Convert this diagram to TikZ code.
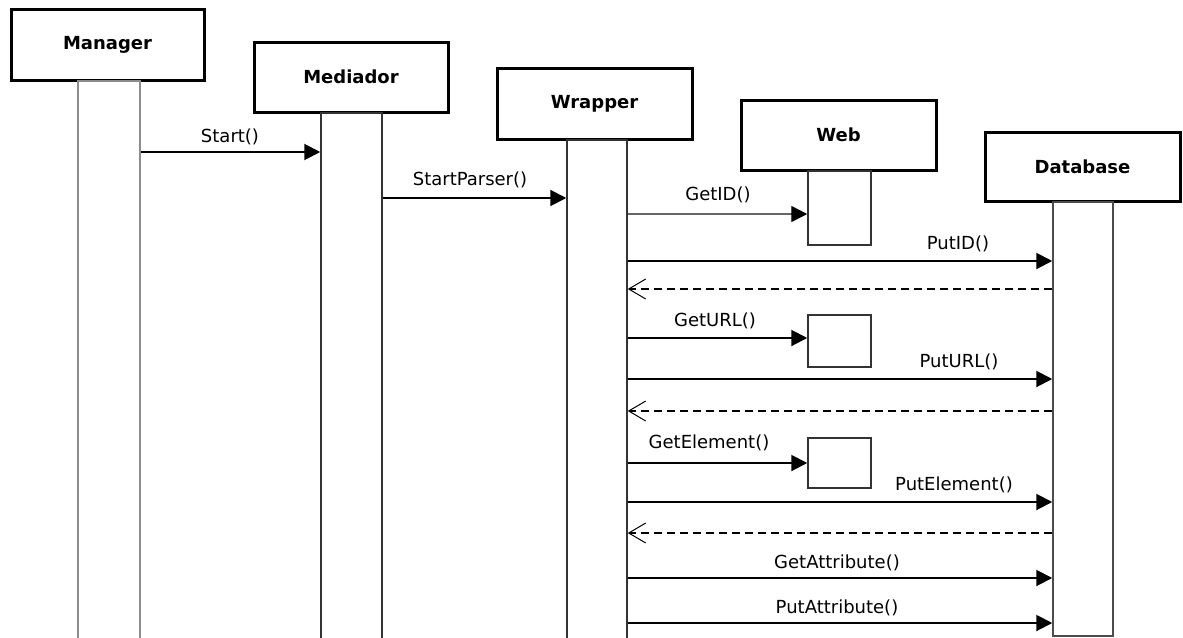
\documentclass[tikz,border=0pt]{standalone}
\usepackage{fontspec}
\setmainfont{DejaVu Sans}
\usetikzlibrary{arrows.meta}
\begin{document}
\begin{tikzpicture}[x=1pt,y=-1pt,
  obj/.style={draw=black, line width=3pt, inner sep=0pt, font=\bfseries\fontsize{18}{21}\selectfont},
  bar/.style={draw=#1, line width=1.5pt, inner sep=0pt, minimum width=61pt, anchor=north},
  msg/.style={line width=2pt, -{Triangle[length=16pt,width=16pt]}},
  thinmsg/.style={line width=1.4pt, draw=black!60, -{Triangle[length=16pt,width=16pt,color=black]}},
  ret/.style={line width=2pt, dash pattern=on 8pt off 5pt, -{Straight Barb[length=17pt,width=20pt,line width=1pt]}},
  lbl/.style={font=\fontsize{18}{21}\selectfont, inner sep=0pt}
]
\useasboundingbox[fill=white] (0,0) rectangle (1183,637);

% objects
\node[obj, minimum width=193pt, minimum height=71pt] (man) at (107.5,44.5) {Manager};
\node[obj, minimum width=194pt, minimum height=70pt] (med) at (351,77) {Mediador};
\node[obj, minimum width=195pt, minimum height=71pt] (wra) at (594.5,103.5) {Wrapper};
\node[obj, minimum width=195pt, minimum height=70pt] (web) at (838.5,135) {Web};
\node[obj, minimum width=195pt, minimum height=69pt] (db) at (1082.5,166.5) {Database};

% lifelines / activation bars
\node[bar=black!45, minimum width=62pt, minimum height=580pt] (manbar) at (109,80) {};
\node[bar=black!80, minimum width=61pt, minimum height=550pt] (medbar) at (351.5,112) {};
\node[bar=black!80, minimum width=60pt, minimum height=520pt] (wrabar) at (597,139) {};
\node[bar=black!80, minimum width=63pt, minimum height=74pt] (webbar1) at (839.5,170) {};
\node[bar=black!80, minimum width=63pt, minimum height=52pt] (webbar2) at (839.5,314) {};
\node[bar=black!80, minimum width=63pt, minimum height=50pt] (webbar3) at (839.5,437) {};
\node[bar=black!70, minimum width=60pt, minimum height=434pt] (dbbar) at (1083,201) {};

% messages
\draw[msg] (manbar.east |- 0,152) -- (medbar.west |- 0,152);
\node[lbl] (l1) at (230,137) {Start()};
\draw[msg] (medbar.east |- 0,198) -- (wrabar.west |- 0,198);
\node[lbl] (l2) at (470,180) {StartParser()};
\draw[thinmsg] (wrabar.east |- 0,214) -- (webbar1.west |- 0,214);
\node[lbl] (l3) at (718,195) {GetID()};
\draw[msg] (wrabar.east |- 0,261) -- (dbbar.west |- 0,261);
\node[lbl] (l4) at (958,244) {PutID()};
\draw[ret] (dbbar.west |- 0,289) -- (wrabar.east |- 0,289);
\draw[msg] (wrabar.east |- 0,338) -- (webbar2.west |- 0,338);
\node[lbl] (l5) at (715,321) {GetURL()};
\draw[msg] (wrabar.east |- 0,379) -- (dbbar.west |- 0,379);
\node[lbl] (l6) at (959,362) {PutURL()};
\draw[ret] (dbbar.west |- 0,411) -- (wrabar.east |- 0,411);
\draw[msg] (wrabar.east |- 0,463) -- (webbar3.west |- 0,463);
\node[lbl] (l7) at (709,443) {GetElement()};
\draw[msg] (wrabar.east |- 0,502) -- (dbbar.west |- 0,502);
\node[lbl] (l8) at (954,485) {PutElement()};
\draw[ret] (dbbar.west |- 0,533) -- (wrabar.east |- 0,533);
\draw[msg] (wrabar.east |- 0,578) -- (dbbar.west |- 0,578);
\node[lbl] (l9) at (837,563) {GetAttribute()};
\draw[msg] (wrabar.east |- 0,623) -- (dbbar.west |- 0,623);
\node[lbl] (l10) at (837,608) {PutAttribute()};
\end{tikzpicture}
\end{document}
